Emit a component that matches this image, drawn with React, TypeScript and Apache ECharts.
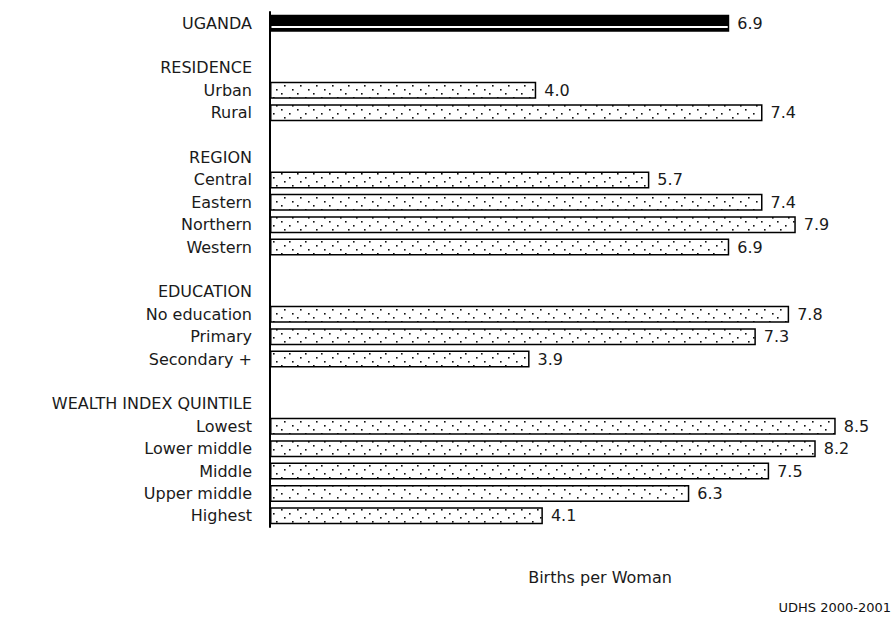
import React, { useEffect, useRef } from "react";
import * as echarts from "echarts";

const rowLabels: string[] = [
  "UGANDA", "", "RESIDENCE", "Urban", "Rural", "", "REGION", "Central", "Eastern", "Northern", "Western", "",
  "EDUCATION", "No education", "Primary", "Secondary +", "", "WEALTH INDEX QUINTILE",
  "Lowest", "Lower middle", "Middle", "Upper middle", "Highest",
];
const rowValues: (number | null)[] = [
  6.9, null, null, 4.0, 7.4, null, null, 5.7, 7.4, 7.9, 6.9, null,
  null, 7.8, 7.3, 3.9, null, null,
  8.5, 8.2, 7.5, 6.3, 4.1,
];
const totalIndex = 0;
const axisName = "Births per Woman";
const sourceNote = "UDHS 2000-2001";

function makeDots(): string {
  const c = document.createElement("canvas");
  c.width = 16;
  c.height = 16;
  const ctx = c.getContext("2d")!;
  ctx.fillStyle = "#fff";
  ctx.fillRect(0, 0, 16, 16);
  ctx.fillStyle = "#111";
  const pts = [[1, 1], [12, 5], [4, 9], [9, 13]];
  pts.forEach(([x, y]) => ctx.fillRect(x, y, 1.6, 1.6));
  return c.toDataURL();
}

export default function App() {
  const ref = useRef<HTMLDivElement>(null);
  useEffect(() => {
    if (!ref.current) return;
    const chart = echarts.init(ref.current, null, { renderer: "svg" });
    const dots = makeDots();
    const font = "'DejaVu Sans', sans-serif";
    const data = rowValues.map((v, i) => {
      if (v === null) return { value: null };
      if (i === totalIndex) {
        return {
          value: v,
          itemStyle: {
            color: {
              type: "linear", x: 0, y: 0, x2: 0, y2: 1,
              colorStops: [
                { offset: 0, color: "#000" },
                { offset: 0.7, color: "#000" },
                { offset: 0.7, color: "#fff" },
                { offset: 0.82, color: "#fff" },
                { offset: 0.82, color: "#000" },
                { offset: 1, color: "#000" },
              ],
            },
          },
        };
      }
      return { value: v };
    });
    chart.setOption({
      animation: false,
      backgroundColor: "#fff",
      grid: { left: 270, right: 26, top: 12, bottom: 95 },
      xAxis: {
        type: "value",
        min: 0,
        max: 9,
        axisLine: { show: false },
        axisTick: { show: false },
        axisLabel: { show: false },
        splitLine: { show: false },
      },
      yAxis: {
        type: "category",
        inverse: true,
        data: rowLabels.map((_, i) => "r" + i),
        axisLine: { show: true, lineStyle: { color: "#000", width: 2 } },
        axisTick: { show: false },
        axisLabel: {
          margin: 18,
          interval: 0,
          fontFamily: font,
          fontSize: 16,
          color: "#1a1a1a",
          formatter: (_v: string, i: number) => rowLabels[i],
        },
      },
      series: [
        {
          type: "bar",
          barWidth: 17,
          data,
          itemStyle: {
            color: { image: dots, repeat: "repeat" },
            borderColor: "#000",
            borderWidth: 1.5,
          },
          label: {
            show: true,
            position: "right",
            distance: 8,
            fontFamily: font,
            fontSize: 16,
            color: "#1a1a1a",
            formatter: (p: any) => (p.value == null ? "" : Number(p.value).toFixed(1)),
          },
        },
      ],
      graphic: [
        {
          type: "text",
          x: 600,
          y: 577,
          style: {
            text: axisName,
            fontFamily: font,
            fontSize: 16,
            fill: "#1a1a1a",
            align: "center",
            verticalAlign: "middle",
          },
        },
        {
          type: "text",
          x: 891,
          y: 607,
          style: {
            text: sourceNote,
            fontFamily: font,
            fontSize: 13,
            fill: "#111",
            align: "right",
            verticalAlign: "middle",
          },
        },
      ],
    });
    return () => chart.dispose();
  }, []);
  return (
    <div
      ref={ref}
      style={{ position: "fixed", left: 0, top: 0, width: 895, height: 622 }}
    />
  );
}
